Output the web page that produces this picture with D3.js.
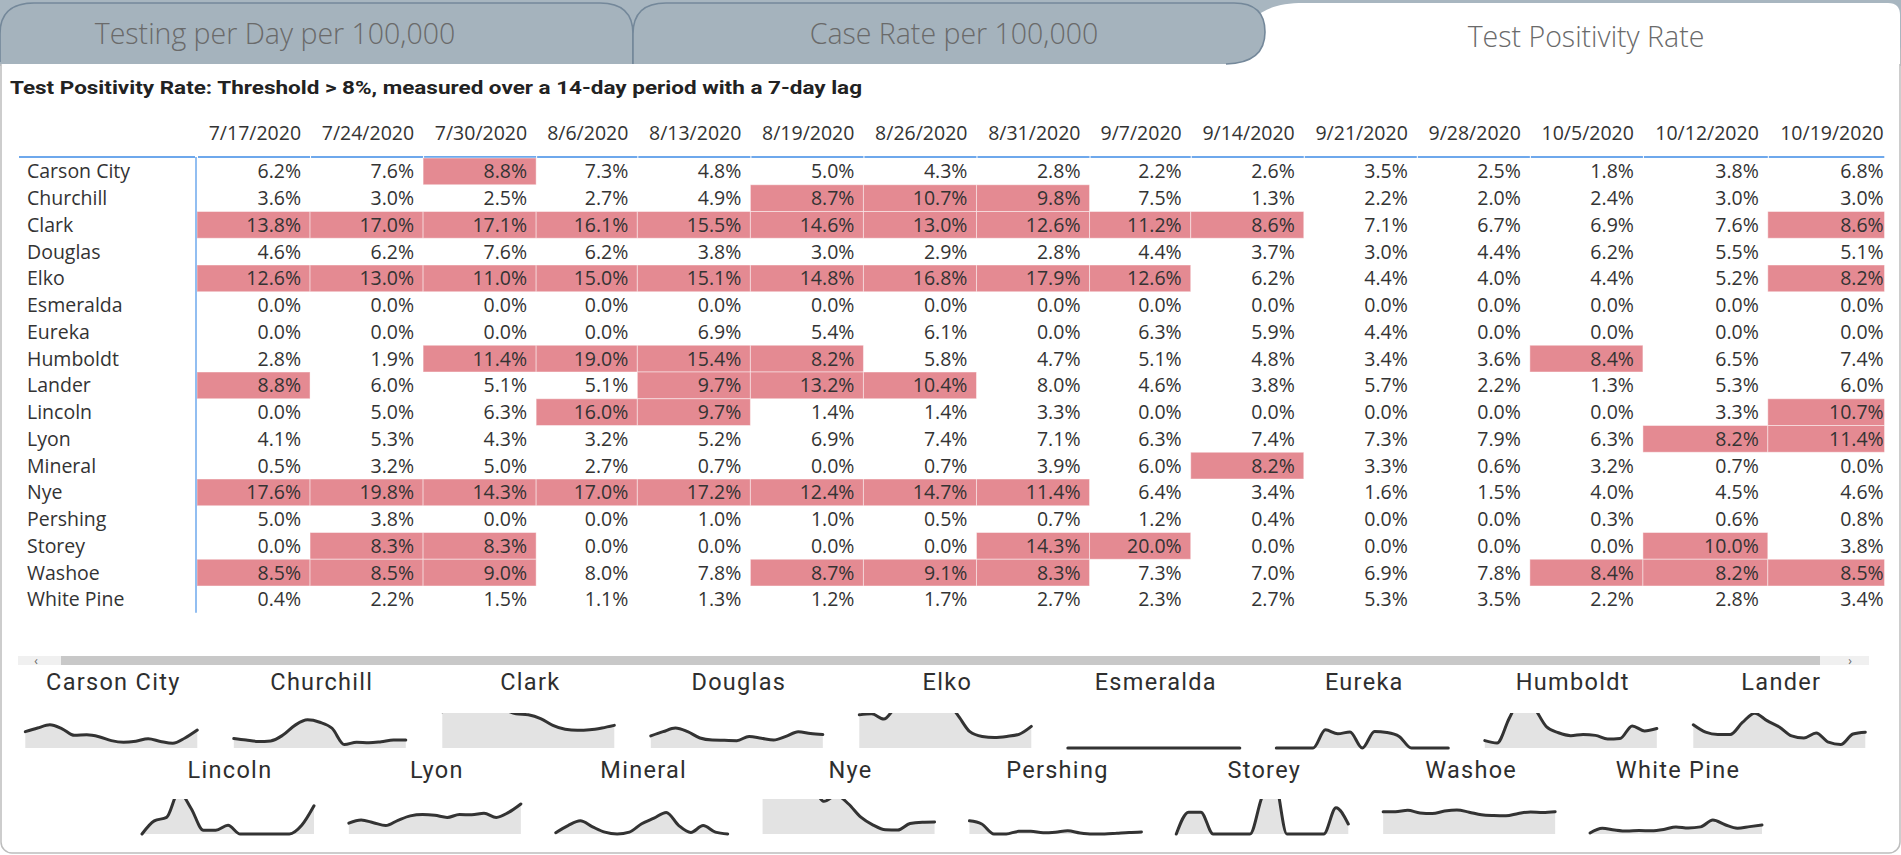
<!DOCTYPE html>
<html><head><meta charset="utf-8">
<script src="https://cdn.jsdelivr.net/npm/d3@7"></script>
<style>
html,body{margin:0;padding:0;background:#fff;overflow:hidden}
svg{display:block}
</style></head><body>
<svg id="c" width="1901" height="855"></svg>
<script>
// ---------- DATA ----------
const tabLabels = ["Testing per Day per 100,000", "Case Rate per 100,000", "Test Positivity Rate"];
const chartTitle = "Test Positivity Rate: Threshold > 8%, measured over a 14-day period with a 7-day lag";
const dates = ["7/17/2020","7/24/2020","7/30/2020","8/6/2020","8/13/2020","8/19/2020","8/26/2020","8/31/2020","9/7/2020","9/14/2020","9/21/2020","9/28/2020","10/5/2020","10/12/2020","10/19/2020"];
const counties = ["Carson City","Churchill","Clark","Douglas","Elko","Esmeralda","Eureka","Humboldt","Lander","Lincoln","Lyon","Mineral","Nye","Pershing","Storey","Washoe","White Pine"];
const threshold = 8;

const carsonCity = [6.2,7.6,8.8,7.3,4.8,5.0,4.3,2.8,2.2,2.6,3.5,2.5,1.8,3.8,6.8];
const churchill  = [3.6,3.0,2.5,2.7,4.9,8.7,10.7,9.8,7.5,1.3,2.2,2.0,2.4,3.0,3.0];
const clark      = [13.8,17.0,17.1,16.1,15.5,14.6,13.0,12.6,11.2,8.6,7.1,6.7,6.9,7.6,8.6];
const douglas    = [4.6,6.2,7.6,6.2,3.8,3.0,2.9,2.8,4.4,3.7,3.0,4.4,6.2,5.5,5.1];
const elko       = [12.6,13.0,11.0,15.0,15.1,14.8,16.8,17.9,12.6,6.2,4.4,4.0,4.4,5.2,8.2];
const esmeralda  = [0.0,0.0,0.0,0.0,0.0,0.0,0.0,0.0,0.0,0.0,0.0,0.0,0.0,0.0,0.0];
const eureka     = [0.0,0.0,0.0,0.0,6.9,5.4,6.1,0.0,6.3,5.9,4.4,0.0,0.0,0.0,0.0];
const humboldt   = [2.8,1.9,11.4,19.0,15.4,8.2,5.8,4.7,5.1,4.8,3.4,3.6,8.4,6.5,7.4];
const lander     = [8.8,6.0,5.1,5.1,9.7,13.2,10.4,8.0,4.6,3.8,5.7,2.2,1.3,5.3,6.0];
const lincoln    = [0.0,5.0,6.3,16.0,9.7,1.4,1.4,3.3,0.0,0.0,0.0,0.0,0.0,3.3,10.7];
const lyon       = [4.1,5.3,4.3,3.2,5.2,6.9,7.4,7.1,6.3,7.4,7.3,7.9,6.3,8.2,11.4];
const mineral    = [0.5,3.2,5.0,2.7,0.7,0.0,0.7,3.9,6.0,8.2,3.3,0.6,3.2,0.7,0.0];
const nye        = [17.6,19.8,14.3,17.0,17.2,12.4,14.7,11.4,6.4,3.4,1.6,1.5,4.0,4.5,4.6];
const pershing   = [5.0,3.8,0.0,0.0,1.0,1.0,0.5,0.7,1.2,0.4,0.0,0.0,0.3,0.6,0.8];
const storey     = [0.0,8.3,8.3,0.0,0.0,0.0,0.0,14.3,20.0,0.0,0.0,0.0,0.0,10.0,3.8];
const washoe     = [8.5,8.5,9.0,8.0,7.8,8.7,9.1,8.3,7.3,7.0,6.9,7.8,8.4,8.2,8.5];
const whitePine  = [0.4,2.2,1.5,1.1,1.3,1.2,1.7,2.7,2.3,2.7,5.3,3.5,2.2,2.8,3.4];

const seriesByCounty = [carsonCity,churchill,clark,douglas,elko,esmeralda,eureka,humboldt,lander,lincoln,lyon,mineral,nye,pershing,storey,washoe,whitePine];
const sparkRow1 = counties.slice(0,9);
const sparkRow2 = counties.slice(9);

// ---------- DRAW ----------
const W = 1901, H = 855;
const svg = d3.select("#c");
const fontTable = "'Open Sans','Segoe UI','Noto Sans',sans-serif";
const fontDin = "Roboto,'Noto Sans',sans-serif";
const textCol = "#333333";
const hiCol = "#e48a92";
const blue = "#6ea8ec";

// top strip + panel
svg.append("rect").attr("x",0).attr("y",0).attr("width",W).attr("height",66).attr("fill","#a8b6c0");
svg.append("rect").attr("x",1).attr("y",40).attr("width",W-2).attr("height",H-42).attr("rx",11)
  .attr("fill","#fff").attr("stroke","#bdbdbd").attr("stroke-width",1.5);

// active (white) tab
svg.append("path").attr("d","M1236,64 L1244,38 C1252,14 1268,3 1304,3 L1888,3 Q1900,3 1900,15 L1900,64 Z").attr("fill","#fff");
// inactive tabs
const tabFill = "#a5b3bd", tabStroke = "#74889a";
svg.append("path").attr("d","M0,64 L0,34 Q0,3 34,3 L600,3 Q633,3 633,34 L633,64 Z").attr("fill",tabFill);
svg.append("path").attr("d","M0,62 L0,34 Q0,3 34,3 L600,3 Q633,3 633,34 L633,64").attr("fill","none").attr("stroke",tabStroke).attr("stroke-width",1.6);
svg.append("path").attr("d","M633,64 L633,34 Q633,3 666,3 L1234,3 Q1265,3 1265,32 Q1265,63 1226,64 Z").attr("fill",tabFill);
svg.append("path").attr("d","M633,64 L633,34 Q633,3 666,3 L1234,3 Q1265,3 1265,32 Q1265,63 1226,64").attr("fill","none").attr("stroke",tabStroke).attr("stroke-width",1.6);

const tabCenters = [275, 954, 1586];
svg.selectAll("text.tab").data(tabLabels).join("text").attr("class","tab")
  .attr("x",(d,i)=>tabCenters[i]).attr("y",(d,i)=>i===2?47:44)
  .attr("text-anchor","middle").attr("font-family",fontTable).attr("font-size",28.5)
  .attr("font-weight",300).attr("fill","#6a6a6a").text(d=>d);

// chart title
svg.append("text").attr("x",10).attr("y",94).attr("font-family",fontDin).attr("font-weight",700)
  .attr("font-size",17.5).attr("fill","#222").attr("textLength",852).attr("lengthAdjust","spacingAndGlyphs")
  .text(chartTitle);

// ---------- TABLE ----------
const fs = 19.5;
const meas = svg.append("text").attr("font-family",fontTable).attr("font-size",fs).attr("visibility","hidden");
const natural = dates.map(d=>{ meas.text(d); return meas.node().getComputedTextLength()+14; });
meas.remove();
const tableX0 = 197, tableRight = 1884.3, fitRight = 1767.8;
const kScale = (fitRight - tableX0) / d3.sum(natural.slice(0, dates.length-1));
const colEdges = [];
{ let x = tableX0; natural.forEach(w=>{ colEdges.push([x, x + w*kScale]); x += w*kScale; }); }
const colX = d3.scaleOrdinal().domain(dates).range(colEdges);

const rowY = d3.scaleBand().domain(counties).range([158, 158 + 26.75*counties.length]).padding(0);
const rh = rowY.bandwidth();

svg.append("clipPath").attr("id","tclip").append("rect").attr("x",0).attr("y",0).attr("width",tableRight).attr("height",H);
const tbl = svg.append("g").attr("clip-path","url(#tclip)");

// header
tbl.selectAll("text.hdr").data(dates).join("text").attr("class","hdr")
  .attr("x",d=>colX(d)[1]-9).attr("y",140).attr("text-anchor","end")
  .attr("font-family",fontTable).attr("font-size",fs).attr("fill",textCol).text(d=>d);

// header underline
tbl.append("line").attr("x1",19).attr("x2",195).attr("y1",157).attr("y2",157).attr("stroke",blue).attr("stroke-width",2);
tbl.selectAll("line.hl").data(dates).join("line").attr("class","hl")
  .attr("x1",d=>colX(d)[0]+1).attr("x2",d=>colX(d)[1]).attr("y1",157).attr("y2",157)
  .attr("stroke",blue).attr("stroke-width",2);

// cells
const cells = [];
counties.forEach((c,i)=>dates.forEach((d,j)=>cells.push({c, d, v: seriesByCounty[i][j]})));
tbl.selectAll("rect.hi").data(cells.filter(e=>e.v>threshold)).join("rect").attr("class","hi")
  .attr("x",e=>colX(e.d)[0]).attr("y",e=>rowY(e.c))
  .attr("width",e=>colX(e.d)[1]-colX(e.d)[0]).attr("height",rh)
  .attr("fill",hiCol).attr("stroke","rgba(255,255,255,0.45)").attr("stroke-width",1);

const fmt = d3.format(".1f");
tbl.selectAll("text.val").data(cells).join("text").attr("class","val")
  .attr("x",e=>colX(e.d)[1]-9).attr("y",e=>rowY(e.c)+rh/2+7)
  .attr("text-anchor","end").attr("font-family",fontTable).attr("font-size",fs).attr("fill",textCol)
  .text(e=>fmt(e.v)+"%");

// row headers
svg.selectAll("text.rowh").data(counties).join("text").attr("class","rowh")
  .attr("x",27).attr("y",d=>rowY(d)+rh/2+7)
  .attr("font-family",fontTable).attr("font-size",fs).attr("fill",textCol).text(d=>d);
svg.append("line").attr("x1",196).attr("x2",196).attr("y1",157).attr("y2",rowY.range()[1])
  .attr("stroke",blue).attr("stroke-width",1.5);

// ---------- SCROLLBAR ----------
svg.append("rect").attr("x",18).attr("y",656).attr("width",1851).attr("height",9).attr("fill","#f0f0f0");
svg.append("rect").attr("x",61).attr("y",656).attr("width",1759).attr("height",9).attr("fill","#c8c8c8");
svg.append("text").attr("x",36).attr("y",665).attr("text-anchor","middle").attr("font-family",fontTable).attr("font-size",12).attr("fill","#666").text("‹");
svg.append("text").attr("x",1850).attr("y",665).attr("text-anchor","middle").attr("font-family",fontTable).attr("font-size",12).attr("fill","#666").text("›");

// ---------- SPARKLINES ----------
const sparkW = 172, sparkH = 35;
const sx = d3.scaleLinear().domain([0, dates.length-1]).range([0, sparkW]);
const sy = d3.scaleLinear().domain([0, 13.3]).range([sparkH, 0]);
const area = d3.area().x((d,i)=>sx(i)).y0(sparkH).y1(d=>sy(d)).curve(d3.curveMonotoneX);
const line = d3.line().x((d,i)=>sx(i)).y(d=>sy(d)).curve(d3.curveMonotoneX);
const pos1 = d3.scalePoint().domain(sparkRow1).range([25.3, 1693.3]);
const pos2 = d3.scalePoint().domain(sparkRow2).range([142, 1590]);

svg.append("clipPath").attr("id","sclip").append("rect").attr("x",-3).attr("y",0).attr("width",sparkW+6).attr("height",sparkH+3);

function drawRow(names, pos, boxTop, titleY){
  const g = svg.append("g");
  const cellG = g.selectAll("g.cell").data(names).join("g").attr("class","cell")
    .attr("transform",d=>`translate(${pos(d)},${boxTop})`);
  cellG.append("text").attr("x",sparkW/2+2).attr("y",titleY-boxTop).attr("text-anchor","middle")
    .attr("font-family",fontDin).attr("font-size",23.5).attr("font-weight",400).attr("letter-spacing",1.3)
    .attr("fill","#2e2e2e").text(d=>d);
  const pg = cellG.append("g").attr("clip-path","url(#sclip)");
  pg.append("path").attr("d",d=>area(seriesByCounty[counties.indexOf(d)])).attr("fill","#e3e3e3");
  pg.append("path").attr("d",d=>line(seriesByCounty[counties.indexOf(d)])).attr("fill","none")
    .attr("stroke","#333").attr("stroke-width",3).attr("stroke-linejoin","round").attr("stroke-linecap","round");
}
drawRow(sparkRow1, pos1, 713, 690);
drawRow(sparkRow2, pos2, 799, 778);
</script>
</body></html>
